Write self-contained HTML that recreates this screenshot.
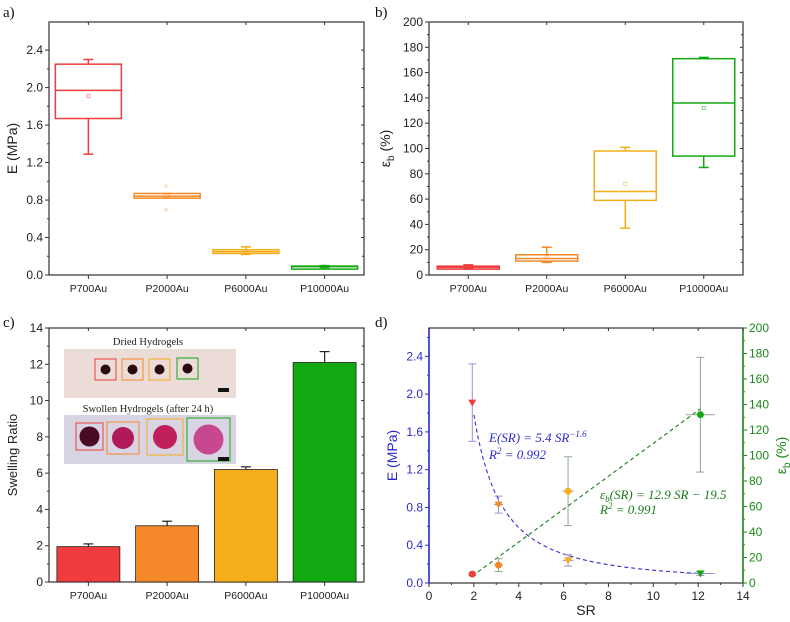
<!DOCTYPE html>
<html><head><meta charset="utf-8"><style>
body{margin:0;background:#fff;}
svg{display:block;font-family:"Liberation Sans",Arial,sans-serif;}
.ser{font-family:"Liberation Serif",serif;}
</style></head><body>
<svg id="fig" width="790" height="622" viewBox="0 0 790 622" xmlns="http://www.w3.org/2000/svg"></svg>
<script>
const cats=["P700Au","P2000Au","P6000Au","P10000Au"];
const colors=["#f03c3c","#f5892a","#f5ad1a","#12a812"];
// panel a: E box stats [min,q1,med,q3,max,mean]
const aStats=[[1.29,1.67,1.97,2.25,2.30,1.91],[0.82,0.82,0.84,0.87,0.87,0.85],[0.22,0.23,0.25,0.27,0.30,0.25],[0.08,0.085,0.09,0.095,0.10,0.09]];
const aTicks=[0,0.4,0.8,1.2,1.6,2.0,2.4];
// panel b: eb box stats
const bStats=[[5,5.5,6,7,8,6.5],[10,11,13,16,22,14],[37,59,66,98,101,72],[85,94,136,171,172,132]];
const bTicks=[0,20,40,60,80,100,120,140,160,180,200];
// panel c: swelling ratio
const cVals=[1.95,3.1,6.2,12.1];
const cErr=[0.15,0.25,0.15,0.6];
const cTicks=[0,2,4,6,8,10,12,14];
// panel d
const dSR=[1.93,3.1,6.2,12.1];
const dSRerr=[0.05,0.2,0.25,0.65];
const dE=[1.91,0.83,0.24,0.10];
const dEerr=[0.41,0.09,0.06,0.02];
const dEb=[7,14,72,132];
const dEberr=[1,5,27,45];
const dXTicks=[0,2,4,6,8,10,12,14];
const dLTicks=[0,0.4,0.8,1.2,1.6,2.0,2.4];
const dRTicks=[0,20,40,60,80,100,120,140,160,180,200];

const svg=document.getElementById('fig');
const NS="http://www.w3.org/2000/svg";
function el(t,a,p){const e=document.createElementNS(NS,t);for(const k in a)e.setAttribute(k,a[k]);(p||svg).appendChild(e);return e;}
function txt(x,y,s,a,p){const e=el('text',Object.assign({x:x,y:y},a),p);e.textContent=s;return e;}

function frame(x0,x1,y0,y1,col){
  const g=el('g',{});
  
  
  el('rect',{x:x0,y:y0,width:x1-x0,height:y1-y0,fill:'none',stroke:col||'#333','stroke-width':1.2},g);
  return g;
}
function leftAxis(ticks,minor,x0,x1,sy,fmt,col,g){
  ticks.forEach((t,i)=>{const y=sy(t);
    el('line',{x1:x0,x2:x0-4,y1:y,y2:y,stroke:col||'#333'},g);
    el('line',{x1:x1,x2:x1-3,y1:y,y2:y,stroke:'#333'},g);
    const lab=txt(x0-6,y+4,fmt(t),{'text-anchor':'end','font-size':12,fill:col||'#222'},g);
    
    
    if(i<ticks.length-1&&minor){const ym=sy((t+ticks[i+1])/2);el('line',{x1:x0,x2:x0-2,y1:ym,y2:ym,stroke:col||'#333'},g);el('line',{x1:x1,x2:x1-2,y1:ym,y2:ym,stroke:'#333'},g);}
  });
}
function catAxis(x0,x1,y1,y0,g){
  const sx=i=>x0+(x1-x0)/8*(2*i+1);
  cats.forEach((c,i)=>{el('line',{x1:sx(i),x2:sx(i),y1:y1,y2:y1+4,stroke:'#333'},g);el('line',{x1:sx(i),x2:sx(i),y1:y0,y2:y0+3,stroke:'#333'},g);
    const l=txt(sx(i),y1+17,c,{'text-anchor':'middle','font-size':10.5,fill:'#222'},g);
    
    });
  return sx;
}
function boxes(stats,sx,sy,hw,name,g){
  stats.forEach((s,i)=>{const c=colors[i];const x=sx(i);
    const bg=el('g',{stroke:c,fill:'none','stroke-width':1.5},g);
    
    
    el('line',{x1:x,x2:x,y1:sy(s[0]),y2:sy(s[1])},bg);
    el('line',{x1:x,x2:x,y1:sy(s[3]),y2:sy(s[4])},bg);
    el('line',{x1:x-5,x2:x+5,y1:sy(s[0]),y2:sy(s[0])},bg);
    el('line',{x1:x-5,x2:x+5,y1:sy(s[4]),y2:sy(s[4])},bg);
    const h=Math.max(sy(s[1])-sy(s[3]),3);
    el('rect',{x:x-hw,y:sy(s[3]),width:2*hw,height:h},bg);
    el('line',{x1:x-hw,x2:x+hw,y1:sy(s[2]),y2:sy(s[2])},bg);
    el('rect',{x:x-1.5,y:sy(s[5])-1.5,width:3,height:3,'stroke-width':0.8,opacity:0.6},bg);
  });
}
// panel labels
[['a)',3,17],['b)',375,17],['c)',3,327],['d)',375,327]].forEach(p=>{const l=txt(p[1],p[2],p[0],{'font-size':15,class:'ser',fill:'#111'});});

// Panel a
(function(){const x0=49,x1=364,y0=22,y1=275;const sy=v=>y1-(v/2.7)*(y1-y0);
  const g=frame(x0,x1,y0,y1);leftAxis(aTicks,true,x0,x1,sy,v=>v.toFixed(1),null,g);
  const sx=catAxis(x0,x1,y1,y0,g);boxes(aStats,sx,sy,33,'modulus',g);
  el('text',{x:sx(1)-1,y:sy(0.95)+3,'font-size':8,fill:'#f5892a','text-anchor':'middle',opacity:0.6}).textContent='×';
  el('text',{x:sx(1)-1,y:sy(0.70)+3,'font-size':8,fill:'#f5892a','text-anchor':'middle',opacity:0.6}).textContent='×';
  const t=txt(0,0,'E (MPa)',{'font-size':14,fill:'#222','text-anchor':'middle',transform:'translate(17,'+((y0+y1)/2)+') rotate(-90)'});
  })();

// Panel b
(function(){const x0=429,x1=743,y0=22,y1=275;const sy=v=>y1-(v/200)*(y1-y0);
  const g=frame(x0,x1,y0,y1);leftAxis(bTicks,true,x0,x1,sy,v=>String(v),null,g);
  const sx=catAxis(x0,x1,y1,y0,g);boxes(bStats,sx,sy,31,'strain',g);
  const t=el('text',{'font-size':14,fill:'#222','text-anchor':'middle',transform:'translate(390,'+((y0+y1)/2)+') rotate(-90)'});
  t.innerHTML='ε<tspan font-size="10" dy="4">b</tspan><tspan dy="-4"> (%)</tspan>';
  })();

// Panel c
(function(){const x0=49,x1=364,y0=328,y1=582;const sy=v=>y1-(v/14)*(y1-y0);
  const g=frame(x0,x1,y0,y1);leftAxis(cTicks,true,x0,x1,sy,v=>String(v),null,g);
  const sx=catAxis(x0,x1,y1,y0,g);
  cVals.forEach((v,i)=>{const r=el('rect',{x:sx(i)-31.5,y:sy(v),width:63,height:y1-sy(v),fill:colors[i],stroke:'#222','stroke-width':0.8},g);
    
    const e=el('g',{stroke:'#222','stroke-width':1.2},g);
    
    el('line',{x1:sx(i),x2:sx(i),y1:sy(v),y2:sy(v+cErr[i])},e);el('line',{x1:sx(i)-5,x2:sx(i)+5,y1:sy(v+cErr[i]),y2:sy(v+cErr[i])},e);});
  const t=txt(0,0,'Swelling Ratio',{'font-size':13,fill:'#222','text-anchor':'middle',transform:'translate(17,'+((y0+y1)/2)+') rotate(-90)'});
  
  // inset photo
  const ins=el('g',{});
  el('rect',{x:64,y:349,width:172,height:49,fill:'#ecdcd8'},ins);
  el('rect',{x:64,y:415,width:172,height:49,fill:'#d8d4e4'},ins);
  txt(148,345,'Dried Hydrogels',{'font-size':10.5,class:'ser','text-anchor':'middle',fill:'#222'},ins);
  txt(148,412,'Swollen Hydrogels (after 24 h)',{'font-size':10.5,class:'ser','text-anchor':'middle',fill:'#222'},ins);
  [[95,359,103],[122,359,128],[149,359,155],[177,358,187]].forEach((p,i)=>{el('rect',{x:p[0],y:p[1],width:21,height:21,fill:'none',stroke:colors[i]},ins);el('circle',{cx:p[0]+10.5,cy:p[1]+10.5,r:5,fill:'#2a0a10'},ins);});
  [[76,423,27,10,'#4a0a24'],[107,422,32,11,'#b01a5a'],[147,419,36,12,'#c0205a'],[187,418,43,15,'#c84890']].forEach((p,i)=>{el('rect',{x:p[0],y:p[1],width:p[2],height:p[2],fill:'none',stroke:colors[i]},ins);el('circle',{cx:p[0]+p[2]/2,cy:p[1]+p[2]/2,r:p[3],fill:p[4]},ins);});
  el('rect',{x:218,y:388,width:11,height:4,fill:'#111'},ins);el('rect',{x:218,y:457,width:11,height:4,fill:'#111'},ins);
})();

// Panel d
(function(){const x0=429,x1=743,y0=328,y1=583;const sx=v=>x0+v/14*(x1-x0);const sy=v=>y1-(v/2.7)*(y1-y0);const sr=v=>y1-(v/200)*(y1-y0);
  const g=frame(x0,x1,y0,y1,'#333');
  el('line',{x1:x0,x2:x0,y1:y0,y2:y1,stroke:'#2a2ad0','stroke-width':1.5},g);
  el('line',{x1:x1,x2:x1,y1:y0,y2:y1,stroke:'#1a8a1a','stroke-width':1.5},g);
  dLTicks.forEach((t,i)=>{const y=sy(t);el('line',{x1:x0,x2:x0-4,y1:y,y2:y,stroke:'#2a2ad0'},g);
    const l=txt(x0-6,y+4,t.toFixed(1),{'text-anchor':'end','font-size':12,fill:'#2a2ad0'},g);
    const ym=sy(t+0.2);if(ym>y0)el('line',{x1:x0,x2:x0-2,y1:ym,y2:ym,stroke:'#2a2ad0'},g);});
  dRTicks.forEach(t=>{const y=sr(t);el('line',{x1:x1,x2:x1+4,y1:y,y2:y,stroke:'#1a8a1a'},g);
    const l=txt(x1+6,y+4,String(t),{'font-size':12,fill:'#1a8a1a'},g);
    if(t<200){const ym=sr(t+10);el('line',{x1:x1,x2:x1+2,y1:ym,y2:ym,stroke:'#1a8a1a'},g);}});
  dXTicks.forEach(t=>{const x=sx(t);el('line',{x1:x,x2:x,y1:y1,y2:y1+4,stroke:'#333'},g);el('line',{x1:x,x2:x,y1:y0,y2:y0+3,stroke:'#333'},g);
    const l=txt(x,y1+17,String(t),{'text-anchor':'middle','font-size':12,fill:'#222'},g);
    if(t<14){const xm=sx(t+1);el('line',{x1:xm,x2:xm,y1:y1,y2:y1+2,stroke:'#333'},g);}});
  // fits
  let p='';for(let s=2;s<=12.1;s+=0.1){p+=(p?'L':'M')+sx(s).toFixed(1)+','+sy(5.4*Math.pow(s,-1.6)).toFixed(1);}
  const f1=el('path',{d:p,fill:'none',stroke:'#3030d0','stroke-dasharray':'4,3','stroke-width':1.1},g);
  const f2=el('line',{x1:sx(dSR[0]),y1:sr(12.9*dSR[0]-19.5),x2:sx(dSR[3]),y2:sr(12.9*dSR[3]-19.5),stroke:'#1a7a1a','stroke-dasharray':'4,3','stroke-width':1.1},g);
  dSR.forEach((s,i)=>{const x=sx(s);
    const eg=el('g',{stroke:'#a090d0','stroke-width':1},g);
    el('line',{x1:x,x2:x,y1:sy(dE[i]-dEerr[i]),y2:sy(dE[i]+dEerr[i])},eg);
    el('line',{x1:x-4,x2:x+4,y1:sy(dE[i]-dEerr[i]),y2:sy(dE[i]-dEerr[i])},eg);el('line',{x1:x-4,x2:x+4,y1:sy(dE[i]+dEerr[i]),y2:sy(dE[i]+dEerr[i])},eg);
    el('line',{x1:sx(s-dSRerr[i]),x2:sx(s+dSRerr[i]),y1:sy(dE[i]),y2:sy(dE[i])},eg);
    const y=sy(dE[i]);el('path',{d:`M${x-4},${y-3}L${x+4},${y-3}L${x},${y+4}Z`,fill:colors[i],stroke:'none'},eg);
    const bgp=el('g',{stroke:'#90a890','stroke-width':1},g);
    el('line',{x1:x,x2:x,y1:sr(dEb[i]-dEberr[i]),y2:sr(dEb[i]+dEberr[i])},bgp);
    el('line',{x1:x-4,x2:x+4,y1:sr(dEb[i]-dEberr[i]),y2:sr(dEb[i]-dEberr[i])},bgp);el('line',{x1:x-4,x2:x+4,y1:sr(dEb[i]+dEberr[i]),y2:sr(dEb[i]+dEberr[i])},bgp);
    el('line',{x1:sx(s-dSRerr[i]),x2:sx(s+dSRerr[i]),y1:sr(dEb[i]),y2:sr(dEb[i])},bgp);
    el('circle',{cx:x,cy:sr(dEb[i]),r:3.5,fill:colors[i],stroke:'none'},bgp);});
  const a1=el('text',{x:489,y:442,'font-size':13,class:'ser',fill:'#2a2ad0','font-style':'italic'});a1.innerHTML='E(SR) = 5.4 SR<tspan font-size="9" dy="-5">−1.6</tspan>';
  const a2=el('text',{x:489,y:459,'font-size':13,class:'ser',fill:'#2a2ad0','font-style':'italic'});a2.innerHTML='R<tspan font-size="9" dy="-5">2</tspan><tspan dy="5"> = 0.992</tspan>';
  const a3=el('text',{x:600,y:499,'font-size':13,class:'ser',fill:'#1a7a1a','font-style':'italic'});a3.innerHTML='ε<tspan font-size="9" dy="3">b</tspan><tspan dy="-3">(SR) = 12.9 SR − 19.5</tspan>';
  const a4=el('text',{x:600,y:514,'font-size':13,class:'ser',fill:'#1a7a1a','font-style':'italic'});a4.innerHTML='R<tspan font-size="9" dy="-5">2</tspan><tspan dy="5"> = 0.991</tspan>';
  const xt=txt((x0+x1)/2,615,'SR',{'text-anchor':'middle','font-size':14,fill:'#222'});
  const yl=txt(0,0,'E (MPa)',{'font-size':14,fill:'#2a2ad0','text-anchor':'middle',transform:'translate(397,'+((y0+y1)/2)+') rotate(-90)'});
  const yr=el('text',{'font-size':14,fill:'#1a8a1a','text-anchor':'middle',transform:'translate(786,'+((y0+y1)/2)+') rotate(-90)'});yr.innerHTML='ε<tspan font-size="10" dy="4">b</tspan><tspan dy="-4"> (%)</tspan>';
})();
</script>
</body></html>
